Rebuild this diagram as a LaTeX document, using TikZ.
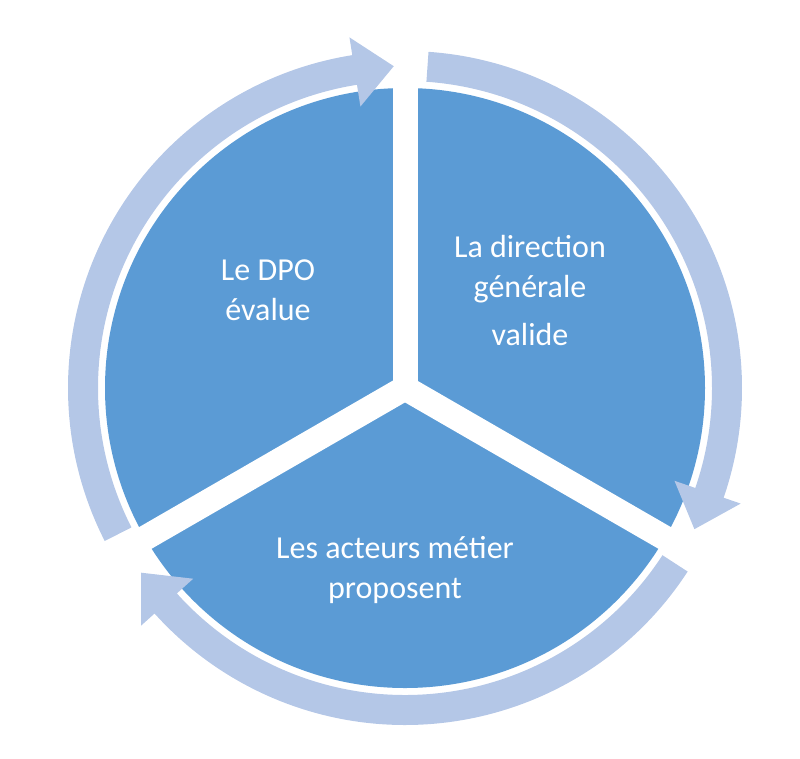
\documentclass[tikz,border=0pt]{standalone}
\usepackage{fontspec}
\setmainfont{Carlito}
\definecolor{pie}{RGB}{91,155,213}
\definecolor{ring}{RGB}{180,199,231}
\begin{document}
\begin{tikzpicture}[x=0.75pt,y=-0.75pt,
  lbl/.style={text=white,font=\fontsize{24}{30}\selectfont,align=center}]
\useasboundingbox (0,0) rectangle (800,758);
\coordinate (c) at (405,388);
\fill[pie] (c) circle[radius=300*0.75pt];
\foreach \a in {90,-30,210}
  \draw[white,line width=18.75pt] (c) -- ++(\a:320*0.75pt);
% ring arrows: start angle, base angle, tip angle
\foreach \s/\b/\t in {207/99/92, 86/-19/-26, -33/-138/-145}{
  \fill[ring,shift={(c)},x=0.75pt,y=0.75pt]
    (\s:337) arc[start angle=\s,end angle=\b,radius=337]
    -- (\b:355) -- (\t:322) -- (\b:285) -- (\b:307)
    arc[start angle=\b,end angle=\s,radius=307] -- cycle;
}
\node[lbl] (dpo) at (268,290) {Le DPO\\évalue};
\node[lbl,align=center] (dg) at (530,290) {La direction\\générale\\[6pt]valide};
\node[lbl] (act) at (395,570) {Les acteurs métier\\proposent};
\end{tikzpicture}
\end{document}
